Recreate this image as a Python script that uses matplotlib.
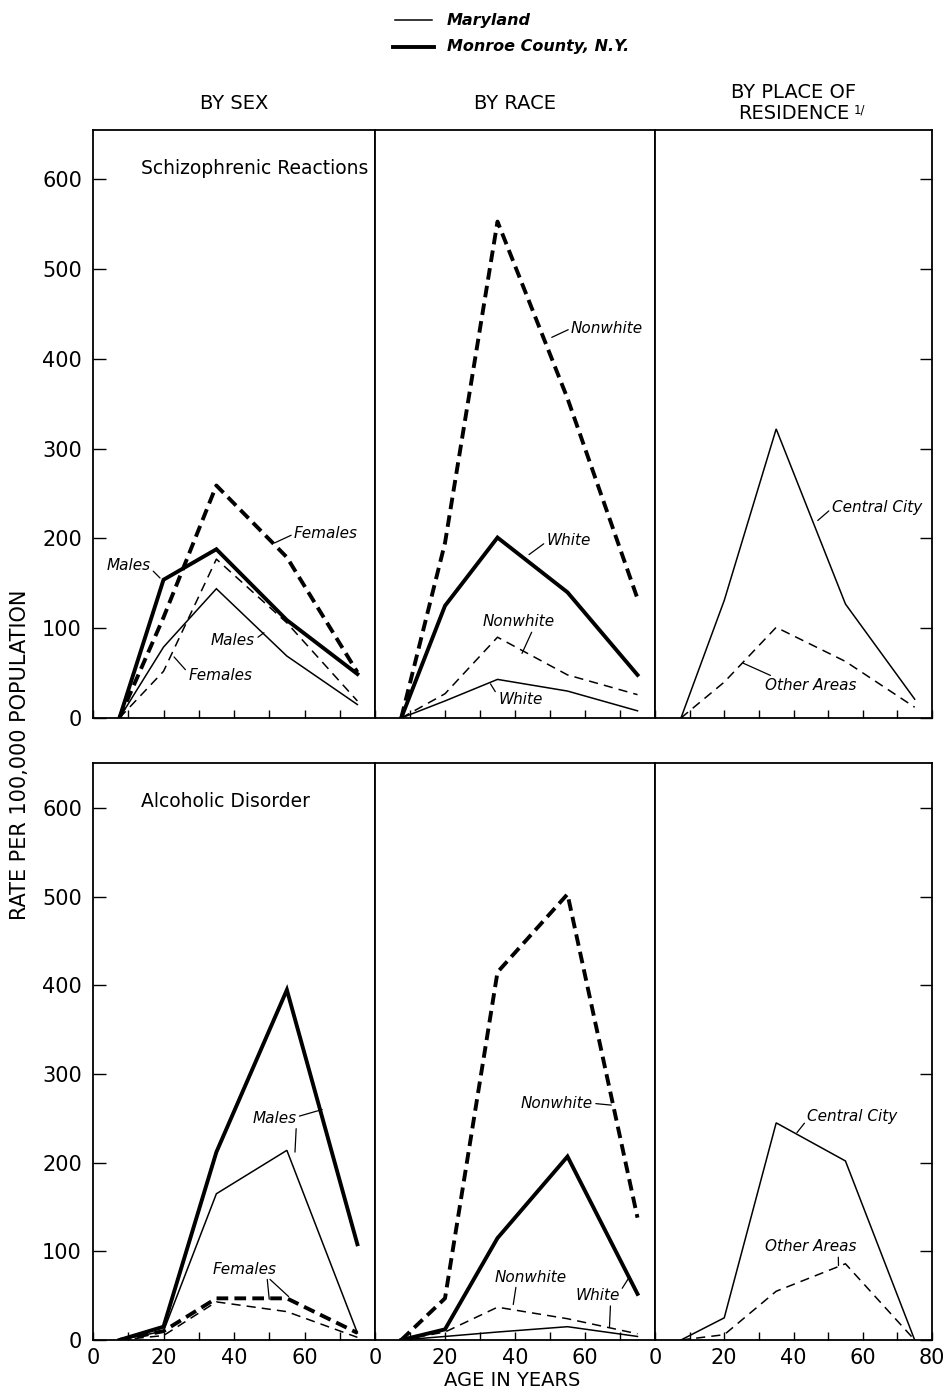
import matplotlib.pyplot as plt

# ages at group midpoints
ages = [7.5, 20, 35, 55, 75]

# Schizophrenic reactions (md = Maryland, mc = Monroe County)
schiz_md_male = [0, 79, 144, 69, 15]
schiz_md_female = [0, 52, 177, 106, 19]
schiz_mc_male = [0, 154, 188, 109, 49]
schiz_mc_female = [0, 112, 259, 179, 51]
schiz_md_white = [0, 19, 43, 30, 8]
schiz_md_nonwhite = [0, 27, 90, 48, 26]
schiz_mc_white = [0, 125, 201, 140, 48]
schiz_mc_nonwhite = [0, 195, 553, 356, 133]
schiz_md_central = [0, 131, 322, 127, 21]
schiz_md_other = [0, 40, 101, 63, 12]

# Alcoholic disorder
alc_md_male = [0, 10, 165, 214, 8]
alc_md_female = [0, 5, 43, 32, 3]
alc_mc_male = [0, 15, 212, 395, 108]
alc_mc_female = [0, 10, 47, 47, 8]
alc_md_white = [0, 4, 9, 15, 4]
alc_md_nonwhite = [0, 9, 37, 24, 7]
alc_mc_white = [0, 12, 115, 207, 52]
alc_mc_nonwhite = [0, 47, 415, 503, 138]
alc_md_central = [0, 25, 245, 202, 0]
alc_md_other = [0, 6, 55, 86, 0]

col_titles = ["BY SEX", "BY RACE", "BY PLACE OF\nRESIDENCE"]
y_ticks = [0, 100, 200, 300, 400, 500, 600]

THIN = 1.1
THICK = 2.8


def draw(ax, y, thick, dashed):
    lw = THICK if thick else THIN
    line, = ax.plot(ages, y, color="black", lw=lw, solid_joinstyle="miter")
    if dashed:
        line.set_dashes((3.0, 1.6) if thick else (6.0, 4.0))


def note(ax, text, xytext, xy, relpos=(0.5, 0.5), ha="center", show=True):
    # show=False draws only the leader (text already placed by another call)
    ax.annotate(text, xy=xy, xytext=xytext, ha=ha, va="center",
                fontsize=11, fontstyle="italic",
                color="black" if show else "none",
                arrowprops=dict(arrowstyle="-", lw=0.9, color="black",
                                shrinkA=0, shrinkB=0, relpos=relpos))


fig = plt.figure(figsize=(9.52, 13.93), dpi=100)

lefts = [93 / 952, 375 / 952, 655 / 952]
widths = [282 / 952, 280 / 952, 277 / 952]
row_bottom = [1 - 718 / 1393, 1 - 1340 / 1393]
row_height = [588 / 1393, 577 / 1393]

axes = []
for r in range(2):
    row = []
    for c in range(3):
        ax = fig.add_axes([lefts[c], row_bottom[r], widths[c], row_height[r]])
        ax.set_xlim(0, 80)
        ax.set_ylim(0, 655 if r == 0 else 651)
        ax.set_xticks(range(10, 80, 10), minor=True)
        ax.set_xticks([0, 20, 40, 60] if c < 2 else [0, 20, 40, 60, 80])
        ax.tick_params(axis="x", which="both", direction="in", length=6,
                       width=1, labelsize=15, pad=6)
        if r == 0:
            ax.tick_params(axis="x", which="both", labelbottom=False)
        ax.set_yticks(y_ticks)
        ax.tick_params(axis="y", direction="in", length=9, width=1,
                       labelsize=15, pad=8)
        if c == 0:
            ax.tick_params(axis="y", left=True, right=False, labelleft=True)
        elif c == 2:
            ax.tick_params(axis="y", left=False, right=True, labelleft=False)
        else:
            ax.tick_params(axis="y", left=False, right=False, labelleft=False)
        for s in ax.spines.values():
            s.set_linewidth(1.3)
        row.append(ax)
    axes.append(row)

# --- schizophrenic reactions ---
ax = axes[0][0]
draw(ax, schiz_md_male, False, False)
draw(ax, schiz_md_female, False, True)
draw(ax, schiz_mc_male, True, False)
draw(ax, schiz_mc_female, True, True)
ax.text(13.5, 612, "Schizophrenic Reactions", fontsize=13.5, va="center")
note(ax, "Males", (16.3, 170), (19, 156), relpos=(1, 0.3), ha="right")
note(ax, "Females", (57, 205), (51.5, 195), relpos=(0, 0.5), ha="left")
note(ax, "Males", (46, 86), (48.5, 95), relpos=(1, 0.6), ha="right")
note(ax, "Females", (27, 47), (23, 68), relpos=(0, 0.7), ha="left")

ax = axes[0][1]
draw(ax, schiz_md_white, False, False)
draw(ax, schiz_md_nonwhite, False, True)
draw(ax, schiz_mc_white, True, False)
draw(ax, schiz_mc_nonwhite, True, True)
note(ax, "Nonwhite", (56, 434), (50.5, 424), relpos=(0, 0.5), ha="left")
note(ax, "White", (49, 198), (44, 182), relpos=(0, 0.4), ha="left")
note(ax, "Nonwhite", (41, 107), (42, 72), relpos=(0.7, 0))
note(ax, "White", (41.5, 21), (33, 38), relpos=(0, 0.7))

ax = axes[0][2]
draw(ax, schiz_md_central, False, False)
draw(ax, schiz_md_other, False, True)
note(ax, "Central City", (51, 235), (47, 220), relpos=(0, 0.4), ha="left")
note(ax, "Other Areas", (45, 36), (25.5, 61), relpos=(0.2, 0.8))

# --- alcoholic disorder ---
ax = axes[1][0]
draw(ax, alc_md_male, False, False)
draw(ax, alc_md_female, False, True)
draw(ax, alc_mc_male, True, False)
draw(ax, alc_mc_female, True, True)
ax.text(13.5, 607, "Alcoholic Disorder", fontsize=13.5, va="center")
note(ax, "Males", (51.5, 250), (65, 260), relpos=(1, 0.6))
note(ax, "Males", (51.5, 250), (57.3, 212), relpos=(1, 0.4), show=False)
note(ax, "Females", (43, 80), (50, 46), relpos=(0.85, 0))
note(ax, "Females", (43, 80), (55.5, 49), relpos=(0.85, 0), show=False)

ax = axes[1][1]
draw(ax, alc_md_white, False, False)
draw(ax, alc_md_nonwhite, False, True)
draw(ax, alc_mc_white, True, False)
draw(ax, alc_mc_nonwhite, True, True)
note(ax, "Nonwhite", (52, 267), (67.5, 265), relpos=(1, 0.5))
note(ax, "Nonwhite", (44.5, 71), (39.5, 40), relpos=(0.3, 0))
note(ax, "White", (63.5, 50), (72.5, 70), relpos=(1, 0.7))
note(ax, "White", (63.5, 50), (67, 15), relpos=(0.8, 0), show=False)

ax = axes[1][2]
draw(ax, alc_md_central, False, False)
draw(ax, alc_md_other, False, True)
note(ax, "Central City", (57, 252), (41, 234), relpos=(0, 0.3))
note(ax, "Other Areas", (45, 105), (53, 84), relpos=(0.8, 0))

# column headings
for c, t in enumerate(col_titles):
    ax = axes[0][c]
    ax.text(0.5, 1.029 if c < 2 else 1.012, t, transform=ax.transAxes,
            ha="center", va="bottom", fontsize=14, linespacing=1.15)
fig.text(854 / 952, 1 - 110 / 1393, "1/", fontsize=8.5, ha="left",
         va="center")

# legend for state lines
fig.lines.append(plt.Line2D([395 / 952, 432 / 952], [1 - 20 / 1393] * 2,
                            transform=fig.transFigure, color="black", lw=THIN))
fig.lines.append(plt.Line2D([393 / 952, 434 / 952], [1 - 47 / 1393] * 2,
                            transform=fig.transFigure, color="black", lw=THICK))
fig.text(447 / 952, 1 - 20 / 1393, "Maryland", fontsize=11.5,
         fontstyle="italic", fontweight="bold", va="center")
fig.text(447 / 952, 1 - 47 / 1393, "Monroe County, N.Y.", fontsize=11.5,
         fontstyle="italic", fontweight="bold", va="center")

fig.text(20 / 952, 1 - 755 / 1393, "RATE PER 100,000 POPULATION",
         rotation=90, ha="center", va="center", fontsize=15)
fig.text(512 / 952, 1 - 1380 / 1393, "AGE IN YEARS", ha="center",
         va="center", fontsize=14)

fig.savefig("out.png", dpi=100)
